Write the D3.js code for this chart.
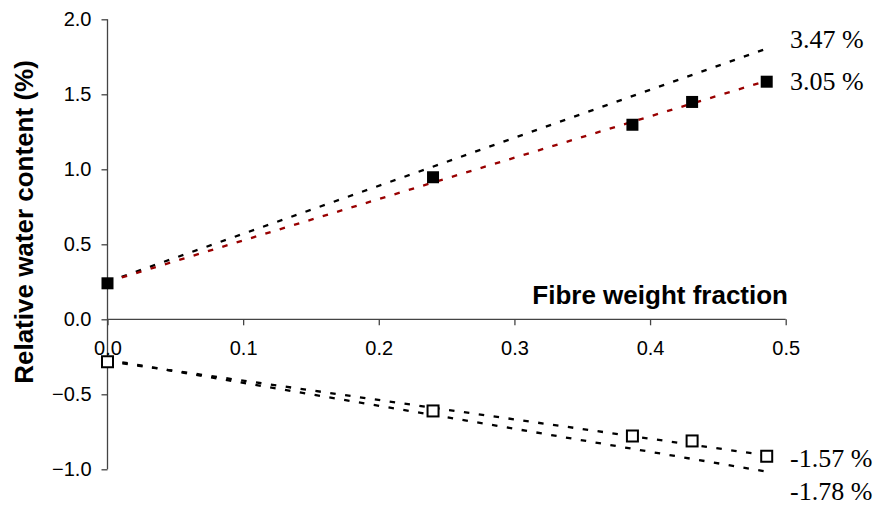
<!DOCTYPE html>
<html><head><meta charset="utf-8">
<script src="https://cdn.jsdelivr.net/npm/d3@7"></script>
<style>html,body{margin:0;padding:0;background:#fff;}</style>
</head><body>
<svg id="c" width="876" height="508"></svg>
<script>
// ---- data ----
const fibre = [0, 0.24, 0.387, 0.431, 0.486];
const filledSeries = [0.24, 0.947, 1.297, 1.449, 1.584];
const openSeries = [-0.283, -0.611, -0.778, -0.811, -0.913];
const trendX = [0, 0.486];
const trendUpperBlack = [0.25, 1.805];
const trendUpperRed = [0.25, 1.59];
const trendLowerA = [-0.28, -0.907];
const trendLowerB = [-0.27, -1.015];
const trendLabels = ["3.47 %", "3.05 %", "-1.57 %", "-1.78 %"];
const xTicks = [0, 0.1, 0.2, 0.3, 0.4, 0.5];
const yTicks = [-1.0, -0.5, 0.0, 0.5, 1.0, 1.5, 2.0];

const svg = d3.select("#c");
const x = d3.scaleLinear().domain([0, 0.5]).range([107.5, 785.7]);
const y = d3.scaleLinear().domain([-1, 2]).range([469.3, 19.3]);
const sans = "'Liberation Sans', Arial, sans-serif";
const serif = "'Liberation Serif', 'Times New Roman', serif";

// axes
const yAxis = svg.append("g").attr("transform", `translate(${x(0)},0)`)
  .call(d3.axisLeft(y).tickValues(yTicks).tickFormat(d3.format(".1f")).tickSize(6).tickPadding(10));
const xAxis = svg.append("g").attr("transform", `translate(0,${y(0)})`)
  .call(d3.axisBottom(x).tickValues(xTicks).tickFormat(d3.format(".1f")).tickSize(6).tickPadding(16));
[yAxis, xAxis].forEach(g => {
  g.select(".domain").attr("stroke", "#444").attr("stroke-width", 1.3);
  g.selectAll(".tick line").attr("stroke", "#444").attr("stroke-width", 1.3);
  g.selectAll("text").attr("font-family", sans).attr("font-size", 20).attr("fill", "#000");
});
yAxis.select(".domain").attr("d", `M0,${y(2)}V${y(-1)}`);
xAxis.select(".domain").attr("d", `M${x(0)},0H${x(0.5)}`);
yAxis.selectAll(".tick line").attr("x2", -6);

// trend lines
const line = d3.line().x(d => x(d[0])).y(d => y(d[1]));
const trends = [
  {v: trendUpperBlack, c: "#000"},
  {v: trendUpperRed, c: "#990000"},
  {v: trendLowerA, c: "#000"},
  {v: trendLowerB, c: "#000"}
];
trends.forEach(t => {
  svg.append("path").datum(trendX.map((d, i) => [d, t.v[i]]))
    .attr("d", line).attr("fill", "none").attr("stroke", t.c)
    .attr("stroke-width", 2.3).attr("stroke-dasharray", "5.5,9.5");
});

// markers
const s = 12;
svg.append("g").selectAll("rect").data(fibre.map((d, i) => [d, filledSeries[i]])).join("rect")
  .attr("x", d => x(d[0]) - s / 2).attr("y", d => y(d[1]) - s / 2)
  .attr("width", s).attr("height", s).attr("fill", "#000");
const so = 11;
svg.append("g").selectAll("rect").data(fibre.map((d, i) => [d, openSeries[i]])).join("rect")
  .attr("x", d => x(d[0]) - so / 2).attr("y", d => y(d[1]) - so / 2)
  .attr("width", so).attr("height", so).attr("fill", "#fff").attr("stroke", "#000").attr("stroke-width", 2);

// labels for trend lines
const labelBaselines = [48, 90, 467, 500];
trendLabels.forEach((t, i) => {
  svg.append("text").attr("x", 790).attr("y", labelBaselines[i])
    .attr("font-family", serif).attr("font-size", 26).attr("fill", "#000").text(t);
});

// axis titles
svg.append("text").attr("x", 788).attr("y", 304).attr("text-anchor", "end")
  .attr("font-family", sans).attr("font-weight", "bold").attr("font-size", 26)
  .text("Fibre weight fraction");
svg.append("text").attr("transform", "translate(33,222) rotate(-90)").attr("text-anchor", "middle")
  .attr("font-family", sans).attr("font-weight", "bold").attr("font-size", 26)
  .text("Relative water content (%)");
</script>
</body></html>
